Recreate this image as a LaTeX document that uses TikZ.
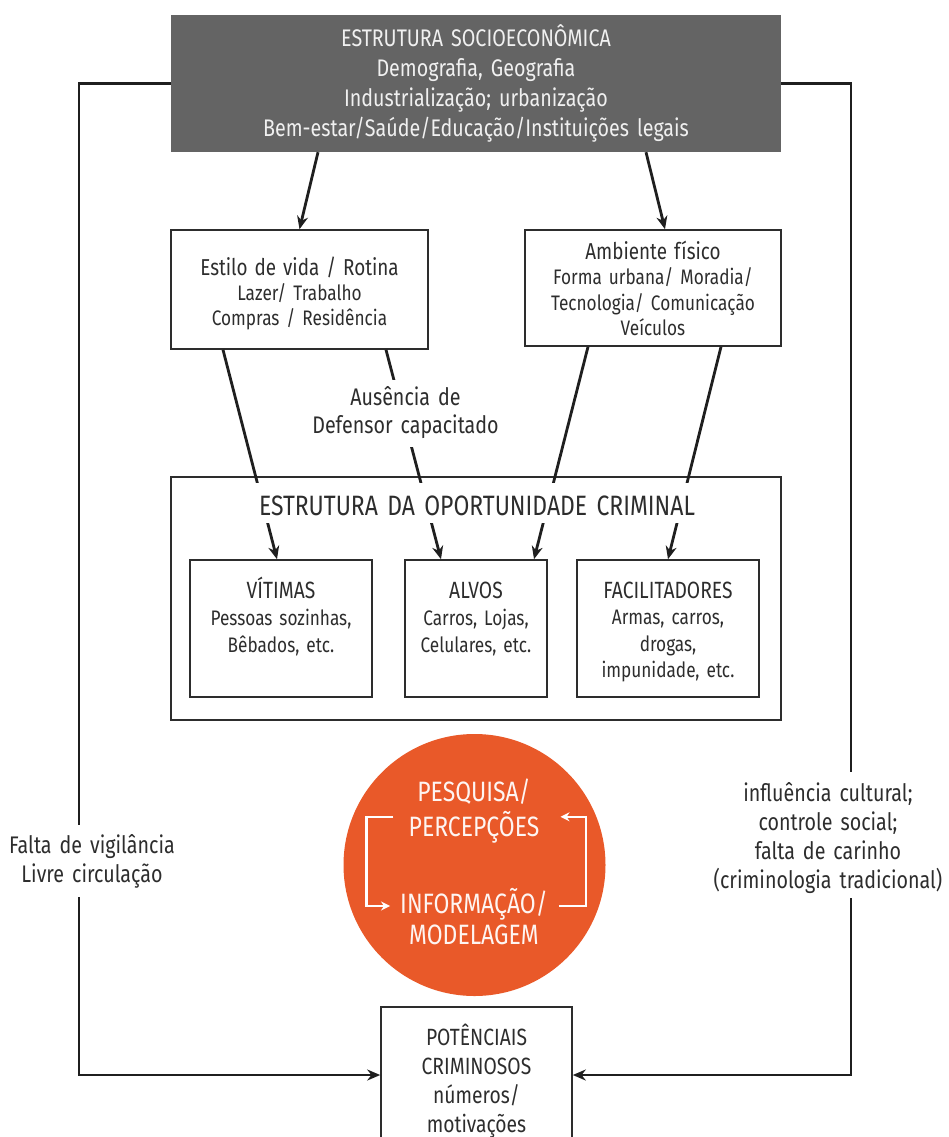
\documentclass[tikz,border=0pt]{standalone}
\usepackage{fontspec}
\setmainfont[FakeStretch=0.82]{Fira Sans}
\usetikzlibrary{arrows.meta}

\definecolor{sociogray}{RGB}{100,100,100}
\definecolor{circleorange}{RGB}{233,89,41}
\definecolor{ink}{RGB}{45,45,45}

\begin{document}
\begin{tikzpicture}[x=1pt, y=-1pt, >={Stealth[length=13pt,width=11pt]},
  box/.style={draw=ink, line width=1.6pt, inner sep=0pt, align=center, text=ink},
  link/.style={line width=2.8pt, draw=black!88},
  cyc/.style={line width=2.6pt, draw=white, -{Stealth[length=9pt,width=9pt]}},
  gap/.style={fill=white, inner sep=0pt, align=center, text=ink},
  cyctext/.style={inner sep=0pt, anchor=base, text=white!94!circleorange,
    font=\fontsize{28}{30}\selectfont, text height=19pt, text depth=5pt}]
  \useasboundingbox (0,0) rectangle (949,1137);
  \clip (0,0) rectangle (949,1137);

  % socio-economic structure
  \node[fill=sociogray, inner sep=0pt, align=center, text=white!94!black, anchor=base,
        text width=610pt, text height=32pt, text depth=105pt,
        font=\fontsize{24}{30}\selectfont] (socio) at (476,47)
    {ESTRUTURA SOCIOECONÔMICA\\Demografia, Geografia\\Industrialização; urbanização\\Bem-estar/Saúde/Educação/Instituições legais};

  % routine and environment
  \node[box, anchor=base, text width=257pt, text height=45pt, text depth=74pt,
        font=\fontsize{21}{25}\selectfont] (estilo) at (299.5,275)
    {{\fontsize{23}{25}\selectfont Estilo de vida / Rotina}\\Lazer/ Trabalho\\Compras / Residência};
  \node[box, anchor=base, text width=256pt, text height=29pt, text depth=87pt,
        font=\fontsize{21}{25.5}\selectfont] (ambiente) at (653,259)
    {{\fontsize{23}{25.5}\selectfont Ambiente físico}\\Forma urbana/ Moradia/\\Tecnologia/ Comunicação\\Veículos};

  % opportunity structure
  \node[box, minimum width=610pt, minimum height=243pt] (opp) at (476,598.5) {};
  \node[box, anchor=base, text width=182pt, text height=38pt, text depth=99pt,
        font=\fontsize{21}{27}\selectfont] (vit) at (281,598)
    {{\fontsize{23.5}{27}\selectfont VÍTIMAS}\\Pessoas sozinhas,\\Bêbados, etc.};
  \node[box, anchor=base, text width=142pt, text height=38pt, text depth=99pt,
        font=\fontsize{21}{27}\selectfont] (alvos) at (476,598)
    {{\fontsize{23.5}{27}\selectfont ALVOS}\\Carros, Lojas,\\Celulares, etc.};
  \node[box, anchor=base, text width=182pt, text height=38pt, text depth=99pt,
        font=\fontsize{21}{26.5}\selectfont] (facil) at (668,598)
    {{\fontsize{23.5}{26.5}\selectfont FACILITADORES}\\Armas, carros,\\drogas,\\impunidade, etc.};

  % research circle
  \node[circle, fill=circleorange, minimum size=262pt, inner sep=0pt] (survey) at (474.5,865) {};
  \node[cyctext] (pesq) at (474,801) {PESQUISA/};
  \node[cyctext] (perc) at (474,836) {PERCEPÇÕES};
  \node[cyctext] (info) at (474,913) {INFORMAÇÃO/};
  \node[cyctext] (model) at (474,944) {MODELAGEM};
  \draw[cyc] ([xshift=-15pt]perc.north west) -- ++(-27pt,0) |- ([xshift=-10pt]info.west);
  \draw[cyc] ([xshift=11pt]info.east) -- ++(27pt,0) |- ([xshift=21pt]perc.north east);

  % offenders
  \node[box, anchor=base, text width=191pt, text height=38pt, text depth=98pt,
        font=\fontsize{23.5}{29}\selectfont] (crim) at (476.5,1045)
    {POTÊNCIAIS\\CRIMINOSOS\\números/\\motivações};

  % side labels
  \node[inner sep=0pt, align=center, text=ink, anchor=base, text width=176pt,
        text height=28pt, text depth=44pt, font=\fontsize{24}{29}\selectfont] (vig) at (92,853)
    {Falta de vigilância\\Livre circulação};
  \node[inner sep=0pt, align=center, text=ink, anchor=base, text width=245pt,
        text height=29pt, text depth=97pt, font=\fontsize{24}{29}\selectfont] (cult) at (828,801)
    {influência cultural;\\controle social;\\falta de carinho\\(criminologia tradicional)};

  % feedback loops
  \draw[link] (socio.west) -| ([xshift=-13pt]vig.north);
  \draw[link,->] ([xshift=-13pt]vig.south) |- (crim.west);
  \draw[link] (socio.east) -| ([xshift=23pt]cult.north);
  \draw[link,->] ([xshift=23pt]cult.south) |- (crim.east);

  % arrows
  \draw[link,->] ([xshift=-158pt]socio.south) -- (estilo.north);
  \draw[link,->] ([xshift=170pt]socio.south) -- ([xshift=12pt]ambiente.north);
  \draw[link,->] ([xshift=-76.5pt]estilo.south) -- ([xshift=-4pt]vit.north);
  \draw[link,->] ([xshift=86.5pt]estilo.south) -- ([xshift=-35pt]alvos.north);
  \draw[link,->] ([xshift=-65pt]ambiente.south) -- ([xshift=58pt]alvos.north);
  \draw[link,->] ([xshift=68pt]ambiente.south) -- (facil.north);

  % labels over the lines
  \node[gap, anchor=base, text width=200pt, text height=25pt, text depth=42pt,
        font=\fontsize{24}{28}\selectfont] (defensor) at (405.5,405)
    {Ausência de\\Defensor capacitado};
  \node[gap, anchor=base, text width=450pt, text height=32pt, text depth=8pt,
        font=\fontsize{28}{31}\selectfont] (opptitle) at (477,515)
    {ESTRUTURA DA OPORTUNIDADE CRIMINAL};
\end{tikzpicture}
\end{document}
